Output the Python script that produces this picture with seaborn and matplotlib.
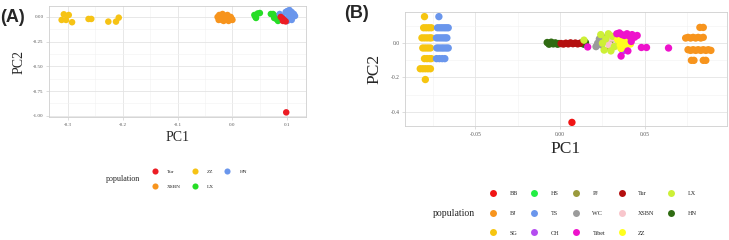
import matplotlib
matplotlib.use("Agg")
import matplotlib.pyplot as plt
import pandas as pd
import seaborn as sns
from matplotlib.lines import Line2D
from matplotlib.ticker import AutoMinorLocator, FormatStrFormatter, MultipleLocator

# ---------------- panel A data ----------------
a_xsbn_x = [-0.027, -0.024, -0.021, -0.018, -0.015, -0.012, -0.009, -0.006, -0.003, 0.000,
            -0.025, -0.019, -0.013, -0.007, -0.001, -0.016]
a_xsbn_y = [0.00, 0.02, -0.01, 0.03, 0.00, -0.02, 0.02, -0.01, 0.00, -0.03,
            -0.03, -0.03, 0.01, -0.04, -0.02, -0.04]
a_zz_x = [-0.307, -0.298, -0.311, -0.303, -0.292, -0.262, -0.257, -0.226, -0.212, -0.207]
a_zz_y = [0.027, 0.020, -0.030, -0.030, -0.053, -0.020, -0.020, -0.047, -0.047, -0.007]
a_lx_x = [0.040, 0.043, 0.046, 0.050, 0.042, 0.070, 0.074, 0.078, 0.080, 0.083, 0.076]
a_lx_y = [0.020, -0.010, 0.035, 0.040, 0.000, 0.030, 0.030, 0.010, -0.020, -0.040, -0.010]
a_hn_x = [0.086, 0.090, 0.095, 0.100, 0.104, 0.108, 0.112, 0.110, 0.105, 0.100, 0.114, 0.108, 0.102, 0.097]
a_hn_y = [0.030, 0.010, -0.020, 0.060, 0.070, 0.050, 0.030, 0.000, -0.020, -0.040, 0.010, -0.030, 0.020, 0.050]
a_tur_x = [0.088, 0.091, 0.094, 0.097, 0.092, 0.098]
a_tur_y = [0.000, -0.015, -0.030, -0.045, -0.040, -0.965]

a_groups = ["XSBN", "ZZ", "LX", "HN", "Tur"]
a_legend_order = ["Tur", "XSBN", "ZZ", "LX", "HN"]
a_colors = {"Tur": "#EC1C24", "ZZ": "#F6C315", "HN": "#6A96EC",
            "XSBN": "#F7941D", "LX": "#26DD26"}

# ---------------- panel B data ----------------
b_sg_x = [-0.0800,
          -0.0805, -0.0790, -0.0775, -0.0760,
          -0.0815, -0.0800, -0.0785, -0.0770, -0.0760,
          -0.0810, -0.0795, -0.0780, -0.0765,
          -0.0800, -0.0785, -0.0770, -0.0760,
          -0.0825, -0.0810, -0.0795, -0.0780, -0.0765,
          -0.0795]
b_sg_y = [0.155,
          0.090, 0.090, 0.090, 0.090,
          0.031, 0.031, 0.031, 0.031, 0.031,
          -0.028, -0.028, -0.028, -0.028,
          -0.090, -0.090, -0.090, -0.090,
          -0.149, -0.149, -0.149, -0.149, -0.149,
          -0.212]
b_ts_x = [-0.0715,
          -0.0723, -0.0710, -0.0697, -0.0684, -0.0672, -0.0660,
          -0.0729, -0.0716, -0.0703, -0.0690, -0.0678, -0.0668,
          -0.0727, -0.0714, -0.0700, -0.0687, -0.0673, -0.0660,
          -0.0729, -0.0712, -0.0695, -0.0680]
b_ts_y = [0.155,
          0.090, 0.090, 0.090, 0.090, 0.090, 0.090,
          0.031, 0.031, 0.031, 0.031, 0.031, 0.031,
          -0.028, -0.028, -0.028, -0.028, -0.028, -0.028,
          -0.090, -0.090, -0.090, -0.090]
b_bj_x = [0.0825, 0.0845,
          0.0741, 0.0755, 0.0770, 0.0785, 0.0800, 0.0815, 0.0830, 0.0845,
          0.0755, 0.0770, 0.0785, 0.0800, 0.0815, 0.0830, 0.0845, 0.0860, 0.0875, 0.0890,
          0.0775, 0.0790, 0.0845, 0.0860]
b_bj_y = [0.092, 0.092,
          0.030, 0.034, 0.030, 0.034, 0.030, 0.034, 0.030, 0.034,
          -0.038, -0.042, -0.038, -0.042, -0.038, -0.042, -0.038, -0.042, -0.038, -0.042,
          -0.100, -0.100, -0.100, -0.100]
b_hn_x = [-0.0076, -0.0065, -0.0052, -0.0040, -0.0028, -0.0015, -0.0006, 0.0124, 0.0140, 0.0150]
b_hn_y = [0.004, -0.006, 0.006, -0.004, 0.002, -0.006, -0.002, 0.000, -0.006, 0.004]
b_tur_x = [0.0006, 0.0020, 0.0034, 0.0048, 0.0062, 0.0076, 0.0090, 0.0104, 0.0118]
b_tur_y = [-0.002, -0.005, 0.000, -0.004, 0.002, -0.003, 0.001, -0.004, 0.000]
b_bb_x = [0.0070]
b_bb_y = [-0.462]
b_hs_x = [0.0300, 0.0320]
b_hs_y = [0.000, -0.010]
b_wc_x = [0.0212, 0.0222, 0.0232, 0.0245, 0.0258]
b_wc_y = [-0.020, 0.000, 0.025, -0.010, 0.030]
b_pj_x = [0.0285, 0.0292, 0.0298]
b_pj_y = [0.050, 0.010, -0.030]
b_ch_x = [0.0370, 0.0385, 0.0392]
b_ch_y = [-0.045, -0.035, 0.025]
b_xsbn_x = [0.0275, 0.0290, 0.0305, 0.0320, 0.0335]
b_xsbn_y = [0.020, -0.010, 0.030, -0.020, 0.005]
b_lx_x = [0.0141, 0.0240, 0.0250, 0.0260, 0.0270, 0.0285, 0.0300, 0.0310, 0.0320, 0.0345, 0.0360]
b_lx_y = [0.018, 0.050, 0.000, -0.040, 0.025, 0.055, -0.045, 0.040, -0.020, 0.010, -0.030]
b_zz_x = [0.0340, 0.0355, 0.0370, 0.0385, 0.0400, 0.0415, 0.0360, 0.0390]
b_zz_y = [0.020, -0.010, 0.010, -0.020, 0.015, -0.005, -0.030, 0.030]
b_tibet_x = [0.0163, 0.0335, 0.0350, 0.0365, 0.0380, 0.0395, 0.0410, 0.0425, 0.0440, 0.0455,
             0.0360, 0.0400, 0.0480, 0.0510, 0.0640, 0.0420]
b_tibet_y = [-0.022, 0.055, 0.060, 0.050, 0.045, 0.055, 0.040, 0.050, 0.035, 0.045,
             -0.075, -0.045, -0.025, -0.025, -0.028, 0.010]

b_groups = ["HS", "BB", "SG", "TS", "BJ", "HN", "Tur", "WC", "PJ", "CH", "XSBN", "LX", "ZZ", "Tibet"]
b_legend_order = ["BB", "BJ", "SG", "HS", "TS", "CH", "PJ", "WC", "Tibet",
                  "Tur", "XSBN", "ZZ", "LX", "HN"]
b_colors = {"BB": "#F01414", "HS": "#22EE44", "PJ": "#9A9A3C", "Tur": "#B40F0F",
            "LX": "#CDF037", "BJ": "#F7941D", "TS": "#6A96EC", "WC": "#9B9B9B",
            "XSBN": "#F8C6CC", "HN": "#2F6B12", "SG": "#F6C510", "CH": "#B44CF0",
            "Tibet": "#EE12CC", "ZZ": "#FFFF1E"}

a_data = {"XSBN": (a_xsbn_x, a_xsbn_y), "ZZ": (a_zz_x, a_zz_y), "LX": (a_lx_x, a_lx_y),
          "HN": (a_hn_x, a_hn_y), "Tur": (a_tur_x, a_tur_y)}
b_data = {"HS": (b_hs_x, b_hs_y), "BB": (b_bb_x, b_bb_y), "SG": (b_sg_x, b_sg_y),
          "TS": (b_ts_x, b_ts_y), "BJ": (b_bj_x, b_bj_y), "HN": (b_hn_x, b_hn_y),
          "Tur": (b_tur_x, b_tur_y), "WC": (b_wc_x, b_wc_y), "PJ": (b_pj_x, b_pj_y),
          "CH": (b_ch_x, b_ch_y), "XSBN": (b_xsbn_x, b_xsbn_y), "LX": (b_lx_x, b_lx_y),
          "ZZ": (b_zz_x, b_zz_y), "Tibet": (b_tibet_x, b_tibet_y)}


def make_df(data, order):
    rows = []
    for g in order:
        xs, ys = data[g]
        for x, y in zip(xs, ys):
            rows.append({"PC1": x, "PC2": y, "population": g})
    return pd.DataFrame(rows)


dfA = make_df(a_data, a_groups)
dfB = make_df(b_data, b_groups)

sns.set_theme(style="whitegrid")
plt.rcParams['font.family'] = ['Liberation Serif', 'DejaVu Serif']
plt.rcParams['axes.unicode_minus'] = False

fig = plt.figure(figsize=(7.29, 2.40), dpi=100)
W, H = 729, 240
axA = fig.add_axes([49 / W, 1 - 117 / H, (306 - 49) / W, (117 - 6) / H])
axB = fig.add_axes([405 / W, 1 - 126 / H, (727 - 405) / W, (126 - 12) / H])


def style(ax, lab_size, tick_size):
    ax.set_facecolor("white")
    for s in ax.spines.values():
        s.set_color("#cfcfcf")
        s.set_linewidth(0.6)
    ax.xaxis.set_minor_locator(AutoMinorLocator(2))
    ax.yaxis.set_minor_locator(AutoMinorLocator(2))
    ax.grid(which="major", color="#e4e4e4", lw=0.6)
    ax.grid(which="minor", color="#f1f1f1", lw=0.4)
    ax.tick_params(which="major", length=2, width=0.5, color="#cfcfcf",
                   labelsize=tick_size, labelcolor="#555555", pad=2,
                   bottom=True, left=True)
    ax.tick_params(which="minor", length=0)
    ax.xaxis.label.set_size(lab_size)
    ax.yaxis.label.set_size(lab_size)


# panel A
sns.scatterplot(data=dfA, x="PC1", y="PC2", hue="population", palette=a_colors,
                s=22, linewidth=0, legend=False, ax=axA)
axA.set_xlim(-0.334, 0.134)
axA.set_ylim(-1.012, 0.111)
axA.xaxis.set_major_locator(MultipleLocator(0.1))
axA.yaxis.set_major_locator(MultipleLocator(0.25))
axA.xaxis.set_major_formatter(FormatStrFormatter("%.1f"))
axA.yaxis.set_major_formatter(FormatStrFormatter("%.2f"))
style(axA, 10, 3.6)
axA.set_xlabel("PC1", labelpad=3)
axA.set_ylabel("PC2", labelpad=5)

# panel B
sns.scatterplot(data=dfB, x="PC1", y="PC2", hue="population", palette=b_colors,
                s=28, linewidth=0, legend=False, ax=axB)
axB.set_xlim(-0.0915, 0.0985)
axB.set_ylim(-0.483, 0.182)
axB.xaxis.set_major_locator(MultipleLocator(0.05))
axB.yaxis.set_major_locator(MultipleLocator(0.2))
axB.xaxis.set_major_formatter(FormatStrFormatter("%.2f"))
axB.yaxis.set_major_formatter(FormatStrFormatter("%.1f"))
style(axB, 12.5, 4)
axB.set_xlabel("PC1", labelpad=3)
axB.set_ylabel("PC2", labelpad=6)

# panel tags
fig.text(0 / W, 1 - 17 / H, "(A)", fontsize=13, fontweight="bold",
         family="Liberation Sans", va="center", ha="left")
fig.text(344 / W, 1 - 14 / H, "(B)", fontsize=13, fontweight="bold",
         family="Liberation Sans", va="center", ha="left")

# legends
def handles(order, colors, ms):
    return [Line2D([], [], marker="o", ls="", markersize=ms, markeredgewidth=0,
                   color=colors[g]) for g in order]


fsA = 3.8
legA = fig.legend(handles(a_legend_order, a_colors, 4.4), a_legend_order, ncol=3,
                  loc="center left", bbox_to_anchor=(152 / W, 1 - 179 / H),
                  frameon=False, fontsize=fsA, handlelength=1, handletextpad=1.9,
                  columnspacing=2.0, labelspacing=2.0, borderpad=0, borderaxespad=0)
fig.text(123 / W, 1 - 179 / H, "population", fontsize=5.8, ha="center", va="center")

fsB = 4.4
legB = fig.legend(handles(b_legend_order, b_colors, 5.0), b_legend_order, ncol=5,
                  loc="center left", bbox_to_anchor=(490 / W, 1 - 213 / H),
                  frameon=False, fontsize=fsB, handlelength=1, handletextpad=2.2,
                  columnspacing=2.2, labelspacing=2.4, borderpad=0, borderaxespad=0)
fig.text(454 / W, 1 - 213 / H, "population", fontsize=7, ha="center", va="center")

fig.savefig("out.png", dpi=100)
